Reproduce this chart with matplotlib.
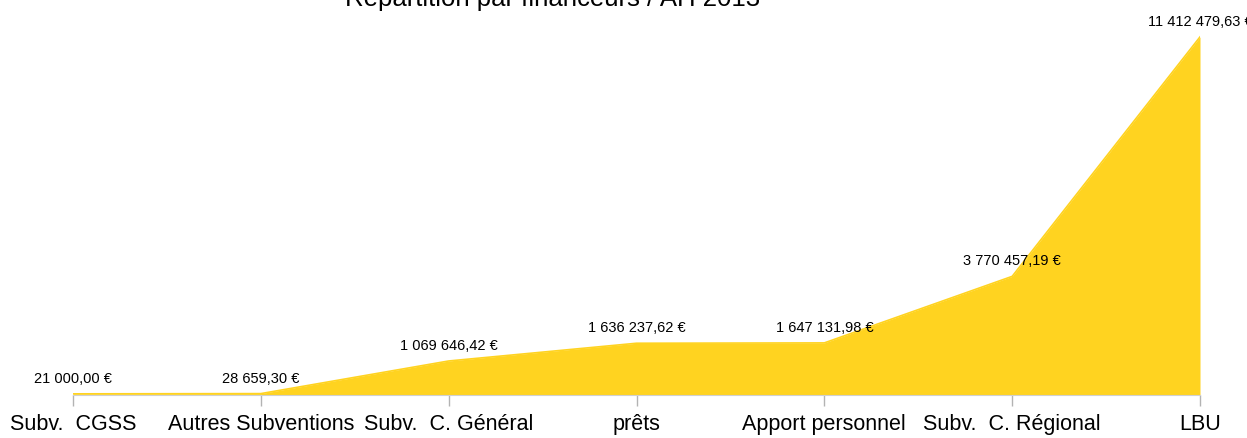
import matplotlib
matplotlib.use("Agg")
import matplotlib.pyplot as plt

categories = ["Subv.  CGSS", "Autres Subventions", "Subv.  C. Général", "prêts",
              "Apport personnel", "Subv.  C. Régional", "LBU"]
values = [21000.00, 28659.30, 1069646.42, 1636237.62, 1647131.98, 3770457.19, 11412479.63]
value_labels = ["21 000,00 €", "28 659,30 €", "1 069 646,42 €", "1 636 237,62 €",
                "1 647 131,98 €", "3 770 457,19 €", "11 412 479,63 €"]
title = "Répartition par financeurs / AH 2013"

plt.rcParams['font.family'] = ['Liberation Sans', 'DejaVu Sans']

W, H = 1247, 439
fig = plt.figure(figsize=(W / 100, H / 100), dpi=100)
x0, x1 = 73, 1200
y0, ytop = 395.5, 19.5
ax = fig.add_axes([x0 / W, (H - y0) / H, (x1 - x0) / W, (y0 - ytop) / H])

x = list(range(len(categories)))
ax.fill_between(x, values, 0, color="#ffd320", linewidth=0)
ax.plot(x, values, color="#ffd320", linewidth=1.2)
ax.set_xlim(0, len(categories) - 1)
ax.set_ylim(0, 12e6)

for xi, v, lab in zip(x, values, value_labels):
    ax.annotate(lab, (xi, v), xytext=(0, 11.5), textcoords="offset points",
                ha="center", va="center", fontsize=10.5, color="black",
                annotation_clip=False)

ax.set_xticks(x)
ax.set_xticklabels(categories, fontsize=15.5)
ax.tick_params(axis="x", length=8, color="#b3b3b3", width=1, pad=5)
ax.set_yticks([])
for s in ["top", "left", "right"]:
    ax.spines[s].set_visible(False)
ax.spines["bottom"].set_color("#d0d0d0")
ax.spines["bottom"].set_linewidth(0.8)

fig.text(553 / W, (H - 6) / H, title, ha="center", va="baseline", fontsize=18.5)

fig.savefig("out.png", dpi=100)
